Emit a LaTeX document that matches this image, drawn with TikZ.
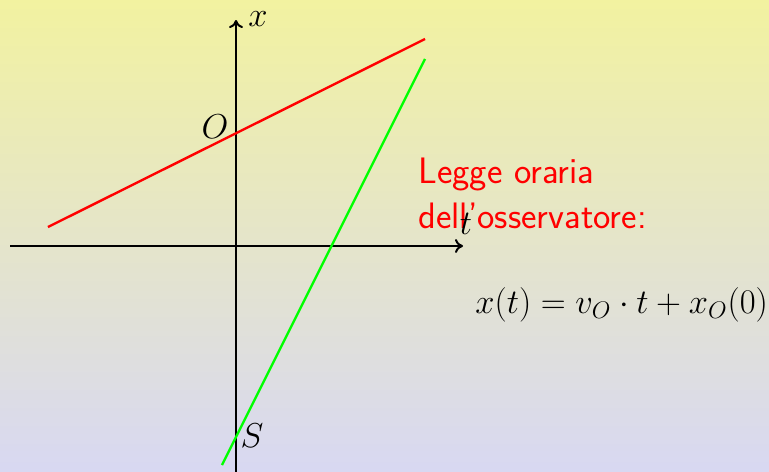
\documentclass[tikz,border=0pt]{standalone}
\usetikzlibrary{arrows.meta}
\definecolor{bgtop}{RGB}{242,242,160}
\definecolor{bgbot}{RGB}{216,216,242}
\tikzset{
  axis/.style={line width=1pt,-{Computer Modern Rightarrow[length=4pt,width=7pt]}},
  law/.style={line width=1.2pt},
  lbl/.style={inner sep=0pt,font=\fontsize{18.5}{22}\selectfont},
}
\begin{document}
\begin{tikzpicture}[x={(0.5pt,0)},y={(0,-0.5pt)}]
\shade[top color=bgtop,bottom color=bgbot] (0,0) rectangle (769,471);
\useasboundingbox (0,0) rectangle (769,471);
% coordinates
\coordinate (tstart) at (10,246);
\coordinate (tend) at (463,246);
\coordinate (xstart) at (236,472);
\coordinate (xend) at (236,20);
\coordinate (r1) at (48,227);
\coordinate (r2) at (425,39);
\coordinate (g1) at (222,465);
\coordinate (g2) at (425,59);
% text
\node (legge) [anchor=base west,align=left,inner sep=0pt,text=red,
  font=\fontsize{18.4}{22.5}\selectfont\sffamily] at (418,228)
  {Legge oraria\\dell'osservatore:};
\node (eq) [anchor=base west,inner sep=0pt,font=\fontsize{17.5}{21}\selectfont] at (475,313)
  {$x(t)=v_O\cdot t+x_O(0)$};
% axes
\draw[axis] (tstart) -- (tend);
\draw[axis] (xstart) -- (xend);
% lines
\draw[law,red] (r1) -- (r2);
\draw[law,green] (g1) -- (g2);
% labels
\node (xl) [lbl] at (258,19) {$x$};
\node (tl) [lbl] at (466,224) {$t$};
\node (ol) [lbl] at (215,127) {$O$};
\node (sl) [lbl] at (252,436) {$S$};
\end{tikzpicture}
\end{document}
